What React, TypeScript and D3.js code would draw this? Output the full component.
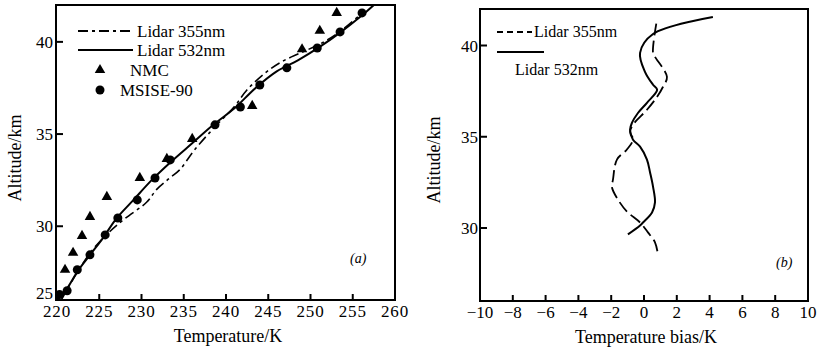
import React from "react";
import * as d3 from "d3";

// ---------- Panel (a) data ----------
const lidar532T = [220.0, 221.0, 222.5, 224.0, 225.5, 227.0, 229.0, 231.2, 233.5, 236.0, 238.5, 241.0, 243.5, 246.0, 248.5, 251.0, 253.5, 256.0, 257.5];
const lidar532Alt = [26.0, 26.5, 27.6, 28.5, 29.4, 30.4, 31.4, 32.5, 33.5, 34.5, 35.5, 36.4, 37.5, 38.4, 39.0, 39.7, 40.5, 41.4, 42.0];

const lidar355T = [220.5, 222.0, 224.0, 226.0, 228.0, 230.6, 231.8, 233.3, 234.6, 236.2, 238.5, 241.0, 242.5, 244.6, 246.5, 248.8, 251.2, 253.6, 256.2];
const lidar355Alt = [26.0, 27.2, 28.6, 29.6, 30.4, 31.3, 32.0, 32.6, 33.1, 34.1, 35.3, 36.5, 37.4, 38.3, 38.9, 39.4, 39.9, 40.6, 41.6];

const nmcT = [220.95, 221.9, 222.96, 223.9, 225.9, 229.8, 233.0, 236.0, 243.1, 249.0, 251.1, 253.1];
const nmcAlt = [27.64, 28.56, 29.48, 30.51, 31.59, 32.62, 33.65, 34.74, 36.53, 39.6, 40.6, 41.57];

const msiseT = [220.3, 221.2, 222.4, 223.9, 225.7, 227.2, 229.5, 231.6, 233.4, 238.7, 241.7, 244.0, 247.2, 250.8, 253.5, 256.1];
const msiseAlt = [26.3, 26.5, 27.64, 28.45, 29.53, 30.45, 31.43, 32.62, 33.6, 35.5, 36.47, 37.66, 38.59, 39.67, 40.54, 41.57];

const tempTicks = [220, 225, 230, 235, 240, 245, 250, 255, 260];
const altTicksA = [25, 30, 35, 40];

// ---------- Panel (b) data ----------
const bias532 = [4.2, 0.55, -0.24, 0.06, 0.55, 0.8, 0.18, -0.37, -0.73, -0.85, -0.67, -0.24, 0.18, 0.37, 0.55, 0.67, 0.49, -0.06, -0.24, -0.98];
const bias532Alt = [41.56, 40.63, 39.6, 38.56, 37.85, 37.57, 36.86, 36.3, 35.77, 35.39, 34.84, 34.46, 33.75, 33.04, 32.27, 31.4, 30.85, 30.3, 30.14, 29.65];

const bias355 = [0.75, 0.55, 0.67, 1.4, 1.16, 0.8, 0.18, -0.67, -0.85, -0.67, -1.04, -1.65, -1.89, -1.95, -1.59, -1.04, -0.24, 0.24, 0.67, 0.85];
const bias355Alt = [41.2, 39.6, 39.38, 38.28, 37.74, 37.19, 36.48, 35.66, 35.28, 34.84, 34.3, 33.75, 32.66, 32.22, 31.56, 30.9, 30.3, 29.76, 29.21, 28.56];

const biasTicks = [-10, -8, -6, -4, -2, 0, 2, 4, 6, 8, 10];
const biasTickLabels = ["\u221210", "\u22128", "\u22126", "\u22124", "\u22122", "0", "2", "4", "6", "8", "10"];
const altTicksB = [30, 35, 40];

const FONT = "'Liberation Serif', 'DejaVu Serif', serif";

export default function App() {
  // panel a scales
  const xA = d3.scaleLinear().domain([220, 260]).range([57, 395]);
  const yA = d3.scaleLinear().domain([26, 42]).range([300, 5]).clamp(true);
  // panel b scales
  const xB = d3.scaleLinear().domain([-10, 10]).range([480, 808]);
  const yB = d3.scaleLinear().domain([26, 42]).range([301, 9]);

  const lineA = d3
    .line<[number, number]>()
    .x((d) => xA(d[0]))
    .y((d) => yA(d[1]))
    .curve(d3.curveCatmullRom);
  const lineB = d3
    .line<[number, number]>()
    .x((d) => xB(d[0]))
    .y((d) => yB(d[1]))
    .curve(d3.curveCatmullRom);

  const zip = (a: number[], b: number[]) => a.map((v, i) => [v, b[i]] as [number, number]);

  const tri = d3.symbol().type(d3.symbolTriangle).size(48)();
  const dash355 = "10 4 3 4";

  return (
    <svg width={818} height={351} style={{ position: "absolute", left: 0, top: 0, background: "#fff" }} fontFamily={FONT}>
      <rect x={0} y={0} width={818} height={351} fill="#fff" />
      {/* ---------------- Panel (a) ---------------- */}
      <g>
        <rect x={56} y={5} width={339} height={295} fill="none" stroke="#000" strokeWidth={2} />
        {tempTicks.map((t) => (
          <g key={"xa" + t}>
            <line x1={xA(t)} x2={xA(t)} y1={300} y2={294} stroke="#000" strokeWidth={2} />
            <text x={xA(t)} y={317} fontSize={17} letterSpacing={0.8} textAnchor="middle">{t}</text>
          </g>
        ))}
        {altTicksA.map((a) => (
          <g key={"ya" + a}>
            {a !== 25 && <line x1={56} x2={63} y1={yA(a)} y2={yA(a)} stroke="#000" strokeWidth={2} />}
            <text x={53} y={a === 25 ? yA(a) - 1 : yA(a) + 6} fontSize={17} textAnchor="end">{a}</text>
          </g>
        ))}
        <text x={228} y={342} fontSize={18} textAnchor="middle">Temperature/K</text>
        <text transform="translate(21,158) rotate(-90)" fontSize={18} textAnchor="middle">Altitude/km</text>
        <text x={350} y={263} fontSize={14} fontStyle="italic">(a)</text>

        <path d={lineA(zip(lidar532T, lidar532Alt)) || ""} fill="none" stroke="#000" strokeWidth={2} />
        <path d={lineA(zip(lidar355T, lidar355Alt)) || ""} fill="none" stroke="#000" strokeWidth={1.6} strokeDasharray={dash355} />
        {nmcT.map((t, i) => (
          <path key={"n" + i} d={tri || ""} transform={`translate(${xA(t)},${yA(nmcAlt[i])})`} fill="#000" />
        ))}
        {msiseT.map((t, i) => (
          <circle key={"m" + i} cx={xA(t)} cy={yA(msiseAlt[i])} r={4.5} fill="#000" />
        ))}

        {/* legend */}
        <line x1={78} x2={133} y1={31} y2={31} stroke="#000" strokeWidth={2} strokeDasharray={dash355} />
        <text x={137} y={37} fontSize={17}>Lidar 355nm</text>
        <line x1={78} x2={133} y1={50} y2={50} stroke="#000" strokeWidth={2.2} />
        <text x={137} y={56} fontSize={17}>Lidar 532nm</text>
        <path d={tri || ""} transform="translate(100,70)" fill="#000" />
        <text x={130} y={76} fontSize={17}>NMC</text>
        <circle cx={100} cy={90} r={4.5} fill="#000" />
        <text x={120} y={96} fontSize={17}>MSISE-90</text>
      </g>

      {/* ---------------- Panel (b) ---------------- */}
      <g>
        <rect x={480} y={9} width={328} height={292} fill="none" stroke="#000" strokeWidth={2} />
        {biasTicks.map((t, i) => (
          <g key={"xb" + t}>
            <line x1={xB(t)} x2={xB(t)} y1={301} y2={295} stroke="#000" strokeWidth={2} />
            <text x={xB(t)} y={318} fontSize={17} textAnchor="middle">{biasTickLabels[i]}</text>
          </g>
        ))}
        {altTicksB.map((a) => (
          <g key={"yb" + a}>
            <line x1={480} x2={487} y1={yB(a)} y2={yB(a)} stroke="#000" strokeWidth={2} />
            <text x={478} y={yB(a) + 6} fontSize={17} textAnchor="end">{a}</text>
          </g>
        ))}
        <text x={646} y={343} fontSize={18} textAnchor="middle">Temperature bias/K</text>
        <text transform="translate(440,160) rotate(-90)" fontSize={18} textAnchor="middle">Altitude/km</text>
        <text x={776} y={267} fontSize={14} fontStyle="italic">(b)</text>

        <path d={lineB(zip(bias532, bias532Alt)) || ""} fill="none" stroke="#000" strokeWidth={2} />
        <path d={lineB(zip(bias355, bias355Alt)) || ""} fill="none" stroke="#000" strokeWidth={1.8} strokeDasharray="12 5" />

        {/* legend */}
        <line x1={497} x2={532} y1={32} y2={32} stroke="#000" strokeWidth={2} strokeDasharray="6 4" />
        <text x={534} y={37} fontSize={16}>Lidar 355nm</text>
        <line x1={497} x2={544} y1={52} y2={52} stroke="#000" strokeWidth={2.2} />
        <text x={515} y={75} fontSize={16}>Lidar 532nm</text>
      </g>
    </svg>
  );
}
